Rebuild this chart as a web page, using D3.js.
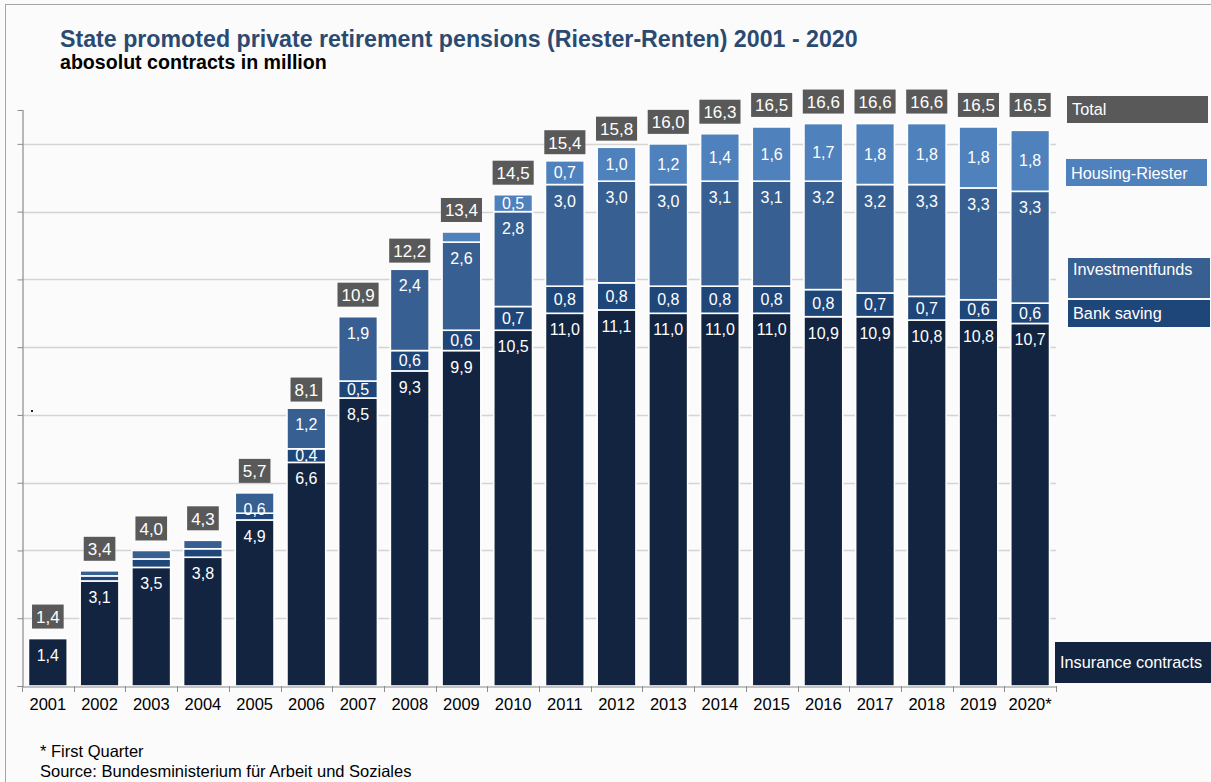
<!DOCTYPE html>
<html>
<head>
<meta charset="utf-8">
<script src="https://cdn.jsdelivr.net/npm/d3@7"></script>
<style>
  html, body { margin: 0; padding: 0; background: #fbfbfb; }
  svg { display: block; font-family: "Liberation Sans", Arial, sans-serif; }
</style>
</head>
<body>
<svg id="chart" width="1211" height="782"></svg>
<script>
// Riester contracts per year, in million
const years = ["2001","2002","2003","2004","2005","2006","2007","2008","2009","2010",
               "2011","2012","2013","2014","2015","2016","2017","2018","2019","2020*"];
const insurance   = [1.4, 3.1, 3.5, 3.8, 4.9, 6.6, 8.5, 9.3, 9.9, 10.5, 11.0, 11.1, 11.0, 11.0, 11.0, 10.9, 10.9, 10.8, 10.8, 10.7];
const bankSaving  = [0, 0.15, 0.25, 0.25, 0.2, 0.4, 0.5, 0.6, 0.6, 0.7, 0.8, 0.8, 0.8, 0.8, 0.8, 0.8, 0.7, 0.7, 0.6, 0.6];
const investment  = [0, 0.15, 0.25, 0.25, 0.6, 1.2, 1.9, 2.4, 2.6, 2.8, 3.0, 3.0, 3.0, 3.1, 3.1, 3.2, 3.2, 3.3, 3.3, 3.3];
const housing     = [0, 0, 0, 0, 0, 0, 0, 0, 0.3, 0.5, 0.7, 1.0, 1.2, 1.4, 1.6, 1.7, 1.8, 1.8, 1.8, 1.8];
const totals      = [1.4, 3.4, 4.0, 4.3, 5.7, 8.1, 10.9, 12.2, 13.4, 14.5, 15.4, 15.8, 16.0, 16.3, 16.5, 16.6, 16.6, 16.6, 16.5, 16.5];
const yTicks      = [0, 2, 4, 6, 8, 10, 12, 14, 16];

const seriesKeys   = ["insurance", "bank", "investment", "housing"];
const seriesNames  = ["Insurance contracts", "Bank saving", "Investmentfunds", "Housing-Riester"];
const seriesColors = ["#12243f", "#1f4679", "#375f92", "#4f81bd"];
// where each segment's value label sits: near the top of the segment or in its middle
const labelPlacement = ["top", "middle", "top", "middle"];
const totalColor = "#595959";

const rows = years.map((y, i) => ({
  year: y, insurance: insurance[i], bank: bankSaving[i],
  investment: investment[i], housing: housing[i], total: totals[i]
}));

const svg = d3.select("#chart");
const fmt = v => d3.format(".1f")(v).replace(".", ",");

// page frame
svg.append("rect").attr("x", 5.5).attr("y", 4.5).attr("width", 1300).attr("height", 900)
  .attr("fill", "none").attr("stroke", "#a6a6a6").attr("stroke-width", 1);

// titles
svg.append("text").attr("x", 60).attr("y", 47)
  .attr("font-size", 23.2).attr("font-weight", "bold").attr("fill", "#2b4a72")
  .text("State promoted private retirement pensions (Riester-Renten) 2001 - 2020");
svg.append("text").attr("x", 60).attr("y", 69)
  .attr("font-size", 19.6).attr("font-weight", "bold").attr("fill", "#000")
  .text("abosolut contracts in million");

const x = d3.scaleBand().domain(years).range([22, 1056]).paddingInner(0.25).paddingOuter(0.125);
const y = d3.scaleLinear().domain([0, 17]).range([686, 110]);

// gridlines
svg.append("g").selectAll("line").data(yTicks.filter(t => t > 0)).join("line")
  .attr("x1", 22).attr("x2", 1056)
  .attr("y1", d => Math.round(y(d)) + 0.5).attr("y2", d => Math.round(y(d)) + 0.5)
  .attr("stroke", "#d4d4d4").attr("stroke-width", 1.3);

// y axis (no labels, just tick marks)
const yAxis = svg.append("g").attr("transform", "translate(22.5,0)")
  .call(d3.axisLeft(y).tickValues(yTicks).tickSize(5).tickFormat(""));
yAxis.select(".domain").attr("stroke", "#8c8c8c").attr("stroke-width", 1.2);
yAxis.selectAll(".tick line").attr("stroke", "#8c8c8c");

// stray marker dot at the left of the plot
svg.append("rect").attr("x", 31).attr("y", 410).attr("width", 2).attr("height", 2).attr("fill", "#222");

// stacked bars
const stack = d3.stack().keys(seriesKeys)(rows);
const layers = svg.append("g").selectAll("g").data(stack).join("g")
  .attr("fill", (d, i) => seriesColors[i]);
layers.selectAll("rect").data(d => d).join("rect")
  .attr("x", d => x(d.data.year))
  .attr("width", x.bandwidth())
  .attr("y", d => y(d[1]))
  .attr("height", d => Math.max(0, y(d[0]) - y(d[1])))
  .attr("stroke", "#fff").attr("stroke-width", 1.6)
  .style("display", d => d[1] - d[0] > 0 ? null : "none");

// segment value labels
stack.forEach((layer, li) => {
  svg.append("g").selectAll("text").data(layer.filter(d => (d[1] - d[0]) >= 0.35)).join("text")
    .attr("x", d => x(d.data.year) + x.bandwidth() / 2)
    .attr("y", d => labelPlacement[li] === "top"
      ? y(d[1]) + 22
      : (y(d[0]) + y(d[1])) / 2 + 5.5)
    .attr("text-anchor", "middle").attr("font-size", 16).attr("fill", "#fff")
    .text(d => fmt(d[1] - d[0]));
});

// total boxes above each bar
const tg = svg.append("g").selectAll("g").data(rows).join("g")
  .attr("transform", d => `translate(${x(d.year) + x.bandwidth() / 2},${y(d.total) - 22})`);
tg.each(function (d) {
  const g = d3.select(this);
  const t = g.append("text").attr("text-anchor", "middle").attr("y", 6.5)
    .attr("font-size", 17).attr("fill", "#fff").text(fmt(d.total));
  const w = t.node().getComputedTextLength() + 8;
  g.insert("rect", "text").attr("x", -w / 2).attr("y", -12).attr("width", w).attr("height", 24)
    .attr("fill", totalColor);
});

// x axis
const xAxis = svg.append("g").attr("transform", "translate(0,686.5)")
  .call(d3.axisBottom(x).tickSize(0).tickPadding(12));
xAxis.select(".domain").attr("stroke", "#8c8c8c").attr("stroke-width", 1.2);
xAxis.selectAll(".tick text").attr("font-size", 16.5).attr("fill", "#000")
  .attr("font-family", "Liberation Sans, Arial, sans-serif");
// category separators on the x axis
svg.append("g").selectAll("line").data(d3.range(years.length + 1)).join("line")
  .attr("x1", i => Math.round(22 + i * x.step()) + 0.5)
  .attr("x2", i => Math.round(22 + i * x.step()) + 0.5)
  .attr("y1", 686).attr("y2", 692)
  .attr("stroke", "#8c8c8c");

// legend labels on the right
const legendItems = [
  { text: "Total", color: totalColor, x: 1067, y: 96, w: 141, h: 27, ty: 115 },
  { text: seriesNames[3], color: seriesColors[3], x: 1066, y: 159, w: 141, h: 27, ty: 179 },
  { text: seriesNames[2], color: seriesColors[2], x: 1068, y: 258, w: 142, h: 40, ty: 275 },
  { text: seriesNames[1], color: seriesColors[1], x: 1068, y: 300, w: 142, h: 27, ty: 319 },
  { text: seriesNames[0], color: seriesColors[0], x: 1055, y: 642, w: 156, h: 41, ty: 668 }
];
const lg = svg.append("g").selectAll("g").data(legendItems).join("g");
lg.append("rect").attr("x", d => d.x).attr("y", d => d.y).attr("width", d => d.w).attr("height", d => d.h)
  .attr("fill", d => d.color);
lg.append("text").attr("x", d => d.x + 5).attr("y", d => d.ty)
  .attr("font-size", 16.3).attr("fill", "#fff").text(d => d.text);

// footnotes
svg.append("text").attr("x", 40).attr("y", 757).attr("font-size", 16.5).attr("fill", "#000")
  .text("* First Quarter");
svg.append("text").attr("x", 40).attr("y", 777).attr("font-size", 16.5).attr("fill", "#000")
  .text("Source: Bundesministerium für Arbeit und Soziales");
</script>
</body>
</html>
